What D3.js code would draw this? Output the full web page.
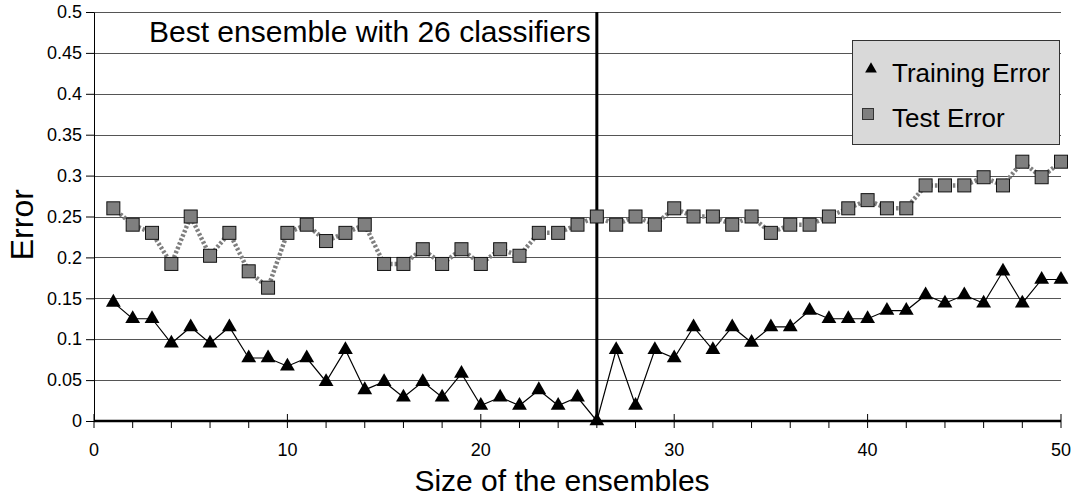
<!DOCTYPE html>
<html>
<head>
<meta charset="utf-8">
<script src="https://cdn.jsdelivr.net/npm/d3@7"></script>
<style>
  body { margin: 0; background: #fff; }
  text { font-family: "Liberation Sans", Arial, sans-serif; fill: #000; }
</style>
</head>
<body>
<div id="chart"></div>
<script>
// ensemble sizes 1..50
var sizes = [1,2,3,4,5,6,7,8,9,10,11,12,13,14,15,16,17,18,19,20,21,22,23,24,25,
             26,27,28,29,30,31,32,33,34,35,36,37,38,39,40,41,42,43,44,45,46,47,48,49,50];

var trainingError = [0.145,0.125,0.125,0.095,0.115,0.095,0.115,0.077,0.077,0.067,
                     0.077,0.048,0.087,0.038,0.048,0.029,0.048,0.029,0.058,0.019,
                     0.029,0.019,0.038,0.019,0.029,0.000,0.087,0.019,0.087,0.077,
                     0.115,0.087,0.115,0.096,0.115,0.115,0.135,0.125,0.125,0.125,
                     0.135,0.135,0.154,0.144,0.154,0.144,0.183,0.144,0.173,0.173];

var testError = [0.26,0.24,0.23,0.192,0.25,0.202,0.23,0.183,0.163,0.23,
                 0.24,0.22,0.23,0.24,0.192,0.192,0.21,0.192,0.21,0.192,
                 0.21,0.202,0.23,0.23,0.24,0.25,0.24,0.25,0.24,0.26,
                 0.25,0.25,0.24,0.25,0.23,0.24,0.24,0.25,0.26,0.27,
                 0.26,0.26,0.288,0.288,0.288,0.298,0.288,0.317,0.298,0.317];

var yTicks = [0,0.05,0.1,0.15,0.2,0.25,0.3,0.35,0.4,0.45,0.5];
var xTicks = [0,10,20,30,40,50];
var bestSize = 26;

// set the dimensions and margins of the graph
var margin = {top: 12, right: 10, bottom: 77, left: 94},
    width = 1071 - margin.left - margin.right,
    height = 498 - margin.top - margin.bottom;

var x = d3.scaleLinear().domain([0, 50]).range([0, width]);
var y = d3.scaleLinear().domain([0, 0.5]).range([height, 0]);

var svg = d3.select("#chart").append("svg")
    .attr("width", 1071)
    .attr("height", 498)
  .append("g")
    .attr("transform", "translate(" + margin.left + "," + margin.top + ")");

// horizontal grid lines
svg.selectAll(".grid")
    .data(yTicks.slice(1))
  .enter().append("line")
    .attr("x1", 0).attr("x2", width)
    .attr("y1", function(d) { return Math.round(y(d)) + 0.5; })
    .attr("y2", function(d) { return Math.round(y(d)) + 0.5; })
    .attr("stroke", "#555")
    .attr("stroke-width", 1);

// Y axis
var yAxis = svg.append("g")
    .call(d3.axisLeft(y).tickValues(yTicks).tickFormat(d3.format("")).tickSize(8).tickSizeOuter(0));
yAxis.select(".domain").attr("stroke", "#000");
yAxis.selectAll("text").style("font-size", "18px").attr("dx", "-1");

// X axis: minor ticks every 2, major every 10
var xAxis = svg.append("g")
    .attr("transform", "translate(0," + height + ")");
xAxis.append("line")
    .attr("x1", 0).attr("x2", width)
    .attr("y1", 0).attr("y2", 0)
    .attr("stroke", "#000").attr("stroke-width", 2.5);
xAxis.selectAll(".minor")
    .data(d3.range(0, 51, 2))
  .enter().append("line")
    .attr("x1", function(d) { return x(d); })
    .attr("x2", function(d) { return x(d); })
    .attr("y1", function(d) { return d % 10 == 0 ? -7 : 0; })
    .attr("y2", 7)
    .attr("stroke", "#000").attr("stroke-width", 1);
xAxis.selectAll(".lab")
    .data(xTicks)
  .enter().append("text")
    .attr("x", function(d) { return x(d); })
    .attr("y", 35)
    .attr("text-anchor", "middle")
    .style("font-size", "18px")
    .text(function(d) { return d; });

// best ensemble marker
svg.append("line")
    .attr("x1", x(bestSize)).attr("x2", x(bestSize))
    .attr("y1", 0).attr("y2", height)
    .attr("stroke", "#000").attr("stroke-width", 3);
svg.append("text")
    .attr("x", x(bestSize) - 6)
    .attr("y", 30)
    .attr("text-anchor", "end")
    .style("font-size", "30px")
    .text("Best ensemble with " + bestSize + " classifiers");

// test error line (dotted grey)
var valueline = d3.line()
    .x(function(d, i) { return x(sizes[i]); })
    .y(function(d) { return y(d); });
svg.append("path")
    .datum(testError)
    .attr("d", valueline)
    .attr("fill", "none")
    .attr("stroke", "#7f7f7f")
    .attr("stroke-width", 4.5)
    .attr("stroke-dasharray", "2.5,2");

// training error line
svg.append("path")
    .datum(trainingError)
    .attr("d", valueline)
    .attr("fill", "none")
    .attr("stroke", "#000")
    .attr("stroke-width", 1.2);

// squares
svg.selectAll(".sq")
    .data(testError)
  .enter().append("rect")
    .attr("x", function(d, i) { return x(sizes[i]) - 6.5; })
    .attr("y", function(d) { return y(d) - 6.5; })
    .attr("width", 13).attr("height", 13)
    .attr("fill", "#7f7f7f")
    .attr("stroke", "#111")
    .attr("stroke-width", 1);

// triangles
var tri = d3.symbol().type(d3.symbolTriangle).size(95);
svg.selectAll(".tri")
    .data(trainingError)
  .enter().append("path")
    .attr("transform", function(d, i) { return "translate(" + x(sizes[i]) + "," + y(d) + ")"; })
    .attr("d", tri)
    .attr("fill", "#000");

// legend
var legend = svg.append("g")
    .attr("transform", "translate(" + (852 - margin.left) + "," + (40 - margin.top) + ")");
legend.append("rect")
    .attr("x", 0.5).attr("y", 0.5)
    .attr("width", 207).attr("height", 104)
    .attr("fill", "#d9d9d9")
    .attr("stroke", "#333");
legend.append("path")
    .attr("transform", "translate(19,29)")
    .attr("d", d3.symbol().type(d3.symbolTriangle).size(60))
    .attr("fill", "#000");
legend.append("text")
    .attr("x", 40).attr("y", 42)
    .style("font-size", "26px")
    .text("Training Error");
legend.append("rect")
    .attr("x", 10.5).attr("y", 68.5)
    .attr("width", 11).attr("height", 11)
    .attr("fill", "#7f7f7f").attr("stroke", "#333");
legend.append("text")
    .attr("x", 40).attr("y", 87)
    .style("font-size", "26px")
    .text("Test Error");

// axis titles
svg.append("text")
    .attr("x", 562 - margin.left)
    .attr("y", height + 70)
    .attr("text-anchor", "middle")
    .style("font-size", "30px")
    .text("Size of the ensembles");
svg.append("text")
    .attr("transform", "translate(" + (-61) + "," + (y(0.24)) + ") rotate(-90)")
    .attr("text-anchor", "middle")
    .style("font-size", "32px")
    .text("Error");
</script>
</body>
</html>
